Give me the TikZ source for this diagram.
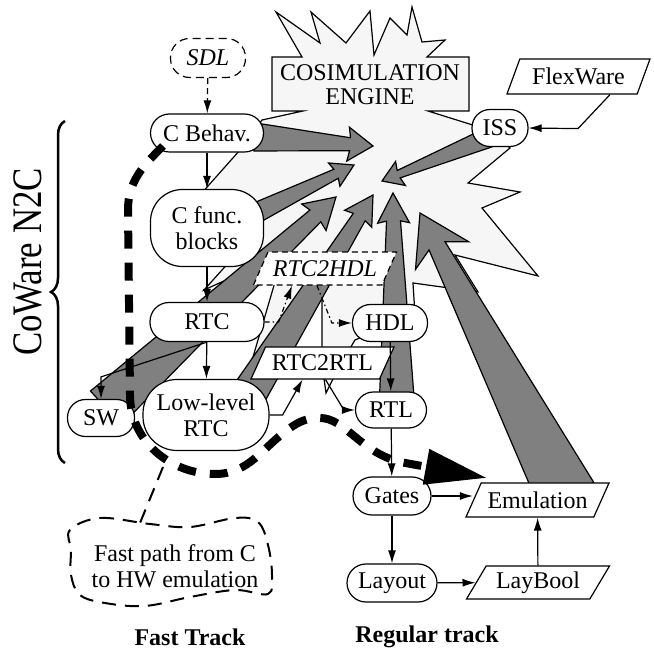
\documentclass[tikz,border=0pt]{standalone}
\usepackage{fontspec}
\setmainfont{Liberation Serif}
\usetikzlibrary{calc,arrows.meta,shapes.geometric,decorations.pathreplacing}
\newcommand{\nodefont}{\fontsize{24}{26}\selectfont}
% tapered grey arrow: tail, tip, tail/neck/head half widths, neck and barb distance from tip
\newcommand{\fatarrow}[7]{
  \coordinate (fa-t) at #1;
  \coordinate (fa-h) at #2;
  \coordinate (fa-n) at ($(fa-h)!#6!(fa-t)$);
  \coordinate (fa-b) at ($(fa-h)!#7!(fa-t)$);
  \draw[fatarr] ($(fa-t)!#3!90:(fa-h)$) -- ($(fa-n)!#4!90:(fa-h)$) -- ($(fa-b)!#5!90:(fa-h)$) -- (fa-h)
    -- ($(fa-b)!#5!-90:(fa-h)$) -- ($(fa-n)!#4!-90:(fa-h)$) -- ($(fa-t)!#3!-90:(fa-h)$) -- cycle;
}
\tikzset{
  pill/.style={draw, fill=white, line width=1.2pt, rounded corners=#1, inner sep=0pt, align=center},
  pill/.default=18pt,
  para/.style={draw, fill=white, line width=1.2pt, shape=trapezium, trapezium left angle=48,
    trapezium right angle=132, trapezium stretches body, inner xsep=-10pt, inner ysep=0pt,
    minimum height=34pt, minimum width=143pt},
  link/.style={line width=1.2pt, -{Latex[length=13pt,width=8pt]}},
  dashdotlink/.style={link, dash pattern=on 5pt off 3pt on 1.5pt off 3pt},
  fatarr/.style={draw, fill=gray, line width=1.2pt, line join=miter},
  burst/.style={draw, fill=gray!7, line width=1.2pt, line join=miter},
  fastpath/.style={line width=8pt, dash pattern=on 18pt off 14pt, -{Triangle[length=62pt,width=34pt]}},
  notecloud/.style={line width=2pt, dash pattern=on 14pt off 9pt},
  notelink/.style={line width=2pt, dash pattern=on 14pt off 9pt},
}
\begin{document}
\begin{tikzpicture}[x=1pt,y=-1pt,font=\nodefont]
\useasboundingbox (0,0) rectangle (654,652);

% cosimulation engine
\draw[burst] (272,57) -- (302,57) -- (276,12) -- (320,43) -- (311,12) -- (346,43) -- (370,11)
  -- (374,55) -- (390,18) -- (407,35) -- (412,7) -- (422,42) -- (445,40) -- (427,57) -- (469,57)
  -- (469,111) -- (428,111) -- (495,132) -- (510,148) -- (468,183) -- (520,192) -- (482,208)
  -- (538,276) -- (455,255) -- (478,292) -- (413,283) -- (415,315) -- (355,340) -- (340,365)
  -- (326,393) -- (322,365) -- (322,290) -- (300,300) -- (253,357) -- (275,282) -- (235,276)
  -- (204,290) -- (240,250) -- (200,195) -- (240,150) -- (262,120) -- (303,111) -- (272,111) -- cycle;
\node[align=center, font=\fontsize{24}{24}\selectfont] (engine) at (370,85) {COSIMULATION\\ENGINE};

\fatarrow{(255,137)}{(373,146)}{14pt}{6.5pt}{17pt}{23pt}{25pt}
\fatarrow{(258,212)}{(354,165)}{10pt}{5pt}{13pt}{20pt}{22pt}
\fatarrow{(490,137)}{(382,181)}{10pt}{4pt}{13pt}{18pt}{20pt}
\fatarrow{(106,408)}{(336,197)}{23pt}{8pt}{18pt}{28pt}{30pt}
\fatarrow{(245,400)}{(373,195)}{18pt}{7pt}{16pt}{26pt}{28pt}
\fatarrow{(397,410)}{(393,193)}{18pt}{7pt}{16pt}{28pt}{30pt}
\fatarrow{(567,496)}{(420,213)}{30pt}{9pt}{30pt}{37pt}{48pt}

% fast track
\node[pill=19pt, minimum width=75pt, minimum height=39pt, dash pattern=on 8pt off 5pt, font=\nodefont\itshape] (sdl) at (208,58) {SDL};
\node[pill=19pt, minimum width=113pt, minimum height=38pt] (cbeh) at (207,133) {C Behav.};
\node[pill=32pt, minimum width=113pt, minimum height=77pt] (cfunc) at (207,228) {C func.\\blocks};
\node[pill=19pt, minimum width=114pt, minimum height=39pt] (rtc) at (207,322) {RTC};
\node[pill=34pt, minimum width=126pt, minimum height=71pt] (low) at (206,415) {Low-level\\RTC};
\node[pill=18pt, minimum width=67pt, minimum height=37pt] (sw) at (101,418) {SW};
% regular track
\node[para, dash pattern=on 6pt off 4pt, font=\nodefont\itshape, minimum height=33pt] (r2h) at (325,268.5) {RTC2HDL};
\node[para, minimum height=32pt] (r2r) at (322.5,363) {RTC2RTL};
\node[pill=18pt, minimum width=75pt, minimum height=37pt] (hdl) at (390,323) {HDL};
\node[pill=18pt, minimum width=71pt, minimum height=36pt] (rtl) at (391,410) {RTL};
\node[pill=19pt, minimum width=78pt, minimum height=38pt] (gates) at (392,496) {Gates};
\node[pill=19pt, minimum width=90pt, minimum height=38pt] (layout) at (392,583) {Layout};
\node[para] (emul) at (537.5,500) {Emulation};
\node[para, minimum height=33pt] (laybool) at (538,582.5) {LayBool};
\node[pill=18pt, minimum width=56pt, minimum height=37pt] (iss) at (500,128) {ISS};
\node[para, trapezium left angle=53, trapezium right angle=127, minimum height=35pt] (flex) at (578.5,76.5) {FlexWare};

\draw[link, dash pattern=on 6pt off 4pt] (sdl) -- (cbeh);
\draw[link] (cbeh) -- (cfunc);
\draw[link] (cfunc) -- (rtc);
\draw[link] (rtc) -- (low);
\draw[link] (rtc.south) -- ([yshift=22pt]sw.north) -- (sw.north);
\draw[dashdotlink] (rtc.east) -- ++(14,0) -- ([xshift=-33pt]r2h.south);
\draw[dashdotlink] ([xshift=-8pt]r2h.south) -- ([xshift=-20pt]hdl.west) -- (hdl.west);
\draw[link] (low.east) -- ++(13,0) -- ([xshift=-20pt]r2r.south);
\draw[link] ([xshift=3pt]r2r.south) -- ([xshift=-11pt]rtl.west) -- (rtl.west);
\draw[link] (hdl) -- (rtl);
\draw[link] (rtl) -- (gates);
\draw[link] (gates.east) -- (emul.west |- gates.east);
\draw[link] (gates) -- (layout);
\draw[link] (layout) -- (laybool);
\draw[link] (laybool) -- (emul);
\draw[link] ([xshift=31.5pt]flex.south) -- ++(-32,34) -- (iss.east);

% fast path
\draw[fastpath] (163,146) to[out=225,in=90] (128,210) -- (130,395) to[out=270,in=180] (215,474)
  to[out=0,in=215] (290,428) to[out=35,in=180] (320,418) .. controls (345,418) and (360,452) .. (400,462) -- (487,478);
\node[align=center] (note) at (175,566) {Fast path from C\\to HW emulation};
\draw[notecloud] plot[smooth cycle, tension=0.6] coordinates {(70,530) (100,518) (150,524) (190,527)
  (235,518) (258,522) (268,545) (272,575) (268,594) (235,590) (190,597) (145,606) (105,603) (80,595) (71,575) (71,550)};
\coordinate (fpmark) at (163,467);
\coordinate (cloudtop) at (140,523);
\draw[notelink] (fpmark) -- (cloudtop);

\draw[decorate, decoration={brace, amplitude=14pt}, line width=2.5pt] (65,463) -- (65,121);
\node[rotate=90, xscale=0.83, font=\fontsize{42}{44}\selectfont] (coware) at (28,262) {CoWare N2C};

\node[font=\nodefont\bfseries] (fast) at (190,637) {Fast Track};
\node[font=\nodefont\bfseries] (regular) at (427,637) {Regular track};
\end{tikzpicture}
\end{document}
